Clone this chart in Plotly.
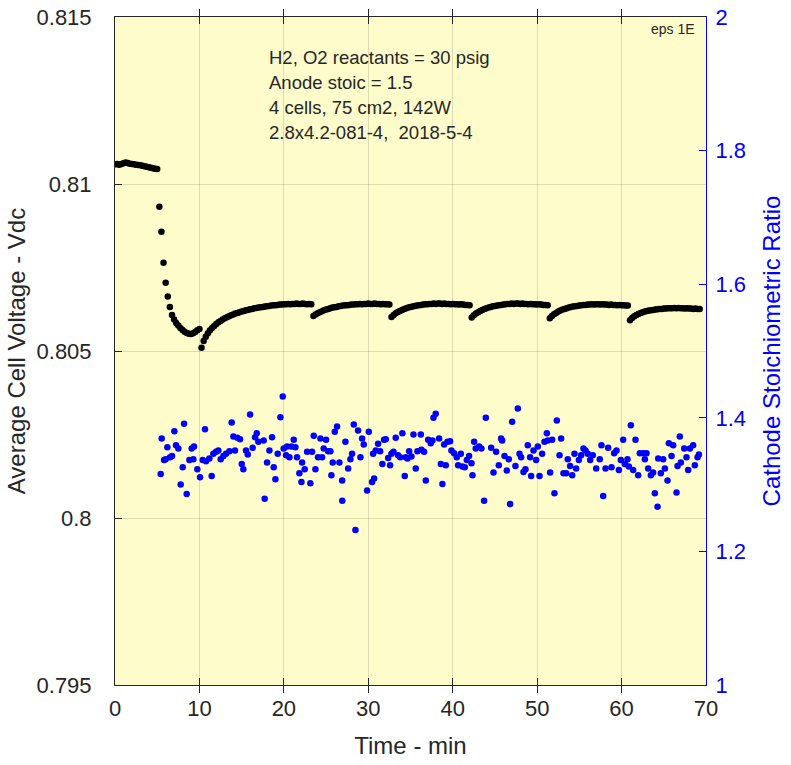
import plotly.graph_objects as go

# ---------------- data ----------------
sample_interval_min = 0.25

# Average cell voltage (Vdc), black series, one list per load segment
volt_seg_starts = [0.0, 5.25, 10.25, 23.5, 32.75, 42.25, 51.5, 61.0]
volt_seg_a = [0.81059, 0.81060, 0.81058, 0.81060, 0.81062, 0.81064, 0.81063, 0.81061, 0.81060, 0.81059,
              0.81058, 0.81057, 0.81056, 0.81055, 0.81053, 0.81052, 0.81050, 0.81049, 0.81047, 0.81046,
              0.81045]
volt_seg_b = [0.80932, 0.80857, 0.80764, 0.80704, 0.80663, 0.80632, 0.80608, 0.80594, 0.80584, 0.80576,
              0.80569, 0.80563, 0.80558, 0.80554, 0.80552, 0.80551, 0.80553, 0.80557, 0.80562, 0.80566]
volt_seg_c = [0.80510, 0.80530, 0.80543, 0.80553, 0.80562, 0.80569, 0.80575, 0.80581, 0.80586, 0.80590,
              0.80594, 0.80598, 0.80601, 0.80604, 0.80607, 0.80609, 0.80612, 0.80614, 0.80616, 0.80618,
              0.80620, 0.80622, 0.80623, 0.80625, 0.80626, 0.80628, 0.80629, 0.80630, 0.80631, 0.80632,
              0.80633, 0.80634, 0.80635, 0.80636, 0.80637, 0.80637, 0.80638, 0.80639, 0.80639, 0.80640,
              0.80640, 0.80641, 0.80640, 0.80641, 0.80641, 0.80642, 0.80641, 0.80641, 0.80642, 0.80641,
              0.80640, 0.80641, 0.80640]
volt_seg_d = [0.80605, 0.80609, 0.80613, 0.80616, 0.80619, 0.80622, 0.80624, 0.80626, 0.80628, 0.80630,
              0.80631, 0.80632, 0.80634, 0.80635, 0.80636, 0.80637, 0.80637, 0.80638, 0.80639, 0.80639,
              0.80640, 0.80640, 0.80641, 0.80640, 0.80641, 0.80641, 0.80642, 0.80641, 0.80641, 0.80642,
              0.80641, 0.80641, 0.80640, 0.80641, 0.80640, 0.80640, 0.80639]
volt_seg_e = [0.80602, 0.80608, 0.80613, 0.80617, 0.80620, 0.80623, 0.80626, 0.80628, 0.80630, 0.80632,
              0.80633, 0.80635, 0.80636, 0.80637, 0.80638, 0.80639, 0.80640, 0.80640, 0.80641, 0.80641,
              0.80642, 0.80641, 0.80642, 0.80642, 0.80641, 0.80642, 0.80641, 0.80641, 0.80640, 0.80641,
              0.80640, 0.80640, 0.80639, 0.80640, 0.80639, 0.80638, 0.80638, 0.80637]
volt_seg_f = [0.80600, 0.80607, 0.80612, 0.80616, 0.80620, 0.80623, 0.80626, 0.80628, 0.80630, 0.80632,
              0.80634, 0.80635, 0.80636, 0.80637, 0.80638, 0.80639, 0.80640, 0.80641, 0.80641, 0.80642,
              0.80641, 0.80642, 0.80642, 0.80641, 0.80642, 0.80641, 0.80641, 0.80640, 0.80641, 0.80640,
              0.80640, 0.80639, 0.80640, 0.80639, 0.80638, 0.80638, 0.80637]
volt_seg_g = [0.80598, 0.80605, 0.80610, 0.80614, 0.80618, 0.80621, 0.80624, 0.80626, 0.80628, 0.80630,
              0.80632, 0.80633, 0.80634, 0.80635, 0.80636, 0.80637, 0.80638, 0.80638, 0.80639, 0.80639,
              0.80640, 0.80639, 0.80640, 0.80640, 0.80639, 0.80640, 0.80639, 0.80639, 0.80638, 0.80639,
              0.80638, 0.80638, 0.80637, 0.80638, 0.80637, 0.80637, 0.80636, 0.80636]
volt_seg_h = [0.80592, 0.80599, 0.80604, 0.80608, 0.80611, 0.80614, 0.80616, 0.80618, 0.80620, 0.80621,
              0.80622, 0.80623, 0.80624, 0.80625, 0.80626, 0.80626, 0.80627, 0.80627, 0.80628, 0.80628,
              0.80628, 0.80629, 0.80628, 0.80629, 0.80628, 0.80628, 0.80627, 0.80628, 0.80627, 0.80627,
              0.80626, 0.80627, 0.80626, 0.80626]

# Cathode stoichiometric ratio, blue series
stoich_time = [
    5.41, 5.53, 5.81, 6.00, 6.20, 6.52, 6.75, 7.03, 7.23, 7.50, 7.78, 8.02, 8.18, 8.49, 8.81, 9.08, 9.28, 9.36, 9.75, 10.07,
    10.39, 10.66, 10.78, 11.18, 11.45, 11.65, 11.97, 12.24, 12.52, 12.84, 13.15, 13.55, 13.82, 14.02, 14.21, 14.49, 14.81,
    15.01, 15.20, 15.52, 15.72, 16.00, 16.31, 16.59, 16.79, 16.98,
    17.61, 17.73, 18.01, 18.29, 18.60, 18.80, 19.00, 19.27, 19.59, 19.87, 19.98, 20.26, 20.38, 20.66, 20.89, 21.17, 21.37,
    21.56, 21.84, 22.08, 22.16, 22.47, 22.75, 23.14, 23.34, 23.54, 23.74, 24.05, 24.33, 24.53, 24.72, 25.00, 25.24, 25.51,
    25.63, 25.79, 26.03, 26.30, 26.58, 26.90, 26.92, 27.29, 27.61, 27.88, 28.08, 28.28, 28.48, 28.79, 29.07, 29.27, 29.46,
    29.86, 30.06, 30.45, 30.57,
    30.69, 30.88, 31.16, 31.40, 31.67, 31.87, 32.07, 32.35, 32.58, 32.74, 32.98, 33.25, 33.53, 33.77, 34.04, 34.32, 34.44,
    34.64, 34.84, 35.11, 35.35, 35.62, 35.82, 36.22, 36.29, 36.61, 36.81, 37.09, 37.40, 37.60, 37.72, 37.99, 38.39, 38.59,
    38.78, 38.98, 39.18, 39.38, 39.69, 39.85, 40.17, 40.48, 40.64, 40.96, 41.15, 41.43, 41.67, 41.94, 42.22, 42.34, 42.54,
    42.73, 43.13, 43.40, 43.72, 43.92,
    44.55, 44.83, 45.14, 45.46, 45.73, 45.85, 46.13, 46.41, 46.64, 46.80, 47.04, 47.43, 47.71, 47.91, 48.10, 48.38, 48.62,
    48.89, 49.17, 49.29, 49.57, 49.88, 50.08, 50.28, 50.59, 50.87, 51.15, 51.26, 51.54, 51.78, 52.05, 52.33, 52.65, 52.84,
    53.12, 53.44, 53.63, 53.91, 54.15, 54.42, 54.62, 54.94, 55.21, 55.49, 55.73, 56.00, 56.28, 56.59, 56.99,
    57.42, 57.62, 57.82, 58.10, 58.41, 58.81, 59.12, 59.40, 59.68, 59.91, 60.19, 60.39, 60.70, 60.86, 61.10, 61.37, 61.65,
    61.97, 62.16, 62.56, 62.76, 62.95, 63.15, 63.47, 63.74, 63.94, 64.26, 64.34, 64.65, 64.93, 65.13, 65.44, 65.60, 65.92,
    66.11, 66.51, 66.63, 66.90, 67.02, 67.42, 67.69, 67.89, 68.09, 68.48, 68.68, 69.00, 69.16]
stoich_ratio = [
    1.316, 1.369, 1.337, 1.338, 1.356, 1.341, 1.343, 1.380, 1.359, 1.354, 1.300, 1.326, 1.391, 1.286, 1.337, 1.354, 1.338,
    1.357, 1.323, 1.311, 1.337, 1.383, 1.335, 1.339, 1.313, 1.346, 1.349, 1.351, 1.338, 1.343, 1.346, 1.350, 1.393, 1.372,
    1.351, 1.370, 1.368, 1.331, 1.323, 1.351, 1.345, 1.405, 1.355, 1.371, 1.377, 1.364,
    1.366, 1.279, 1.333, 1.351, 1.371, 1.326, 1.308, 1.346, 1.401, 1.432, 1.354, 1.344, 1.357, 1.341, 1.357, 1.367, 1.356,
    1.341, 1.317, 1.304, 1.333, 1.323, 1.349, 1.302, 1.349, 1.373, 1.323, 1.341, 1.369, 1.341, 1.354, 1.367, 1.350, 1.350,
    1.314, 1.333, 1.379, 1.387, 1.333, 1.306, 1.276, 1.364, 1.324, 1.338, 1.346, 1.390, 1.232, 1.381, 1.341, 1.369, 1.360,
    1.291, 1.379, 1.304, 1.346,
    1.309, 1.351, 1.361, 1.350, 1.331, 1.367, 1.368, 1.340, 1.329, 1.346, 1.349, 1.370, 1.344, 1.341, 1.377, 1.313, 1.341,
    1.339, 1.350, 1.342, 1.375, 1.324, 1.350, 1.375, 1.352, 1.349, 1.306, 1.367, 1.362, 1.366, 1.400, 1.406, 1.369, 1.331,
    1.301, 1.360, 1.329, 1.364, 1.365, 1.351, 1.347, 1.341, 1.329, 1.346, 1.327, 1.326, 1.337, 1.343, 1.332, 1.314, 1.364,
    1.354, 1.357, 1.354, 1.276, 1.400,
    1.355, 1.318, 1.349, 1.329, 1.369, 1.366, 1.343, 1.321, 1.338, 1.271, 1.394, 1.328, 1.414, 1.346, 1.341, 1.319, 1.323,
    1.359, 1.341, 1.313, 1.351, 1.337, 1.357, 1.313, 1.346, 1.364, 1.377, 1.366, 1.318, 1.367, 1.287, 1.396, 1.344, 1.369,
    1.317, 1.317, 1.338, 1.328, 1.314, 1.346, 1.324, 1.337, 1.344, 1.354, 1.351, 1.346, 1.337, 1.344, 1.324,
    1.338, 1.359, 1.283, 1.324, 1.355, 1.326, 1.347, 1.351, 1.322, 1.337, 1.367, 1.331, 1.338, 1.327, 1.389, 1.322, 1.367,
    1.314, 1.347, 1.347, 1.338, 1.347, 1.324, 1.314, 1.318, 1.287, 1.267, 1.339, 1.317, 1.338, 1.324, 1.306, 1.362, 1.343,
    1.359, 1.288, 1.328, 1.372, 1.333, 1.354, 1.341, 1.322, 1.354, 1.359, 1.329, 1.341, 1.345]

x_ticks = [0, 10, 20, 30, 40, 50, 60, 70]
volt_ticks = [0.795, 0.8, 0.805, 0.81, 0.815]
volt_tick_labels = ["0.795", "0.8", "0.805", "0.81", "0.815"]
ratio_ticks = [1, 1.2, 1.4, 1.6, 1.8, 2]
ratio_tick_labels = ["1", "1.2", "1.4", "1.6", "1.8", "2"]

note_lines = ["H2, O2 reactants = 30 psig", "Anode stoic = 1.5",
              "4 cells, 75 cm2, 142W", "2.8x4.2-081-4,  2018-5-4"]
corner_label = "eps 1E"

# ---------------- build ----------------
volt_segments = [volt_seg_a, volt_seg_b, volt_seg_c, volt_seg_d,
                 volt_seg_e, volt_seg_f, volt_seg_g, volt_seg_h]
volt_time, volt_value = [], []
for start, seg in zip(volt_seg_starts, volt_segments):
    for k, v in enumerate(seg):
        volt_time.append(round(start + k * sample_interval_min, 4))
        volt_value.append(v)

FONT = "Liberation Sans, Arial, sans-serif"
DARK = "#262626"
BLUE = "#0000FF"
GRID = "rgba(0,0,0,0.13)"

fig = go.Figure()
fig.add_trace(go.Scatter(x=stoich_time, y=stoich_ratio, mode="markers", yaxis="y2",
                         marker=dict(color=BLUE, size=6.5, line=dict(width=0)),
                         showlegend=False, hoverinfo="x+y"))
fig.add_trace(go.Scatter(x=volt_time, y=volt_value, mode="markers",
                         marker=dict(color="black", size=6.5, line=dict(width=0)),
                         showlegend=False, hoverinfo="x+y"))

for i, line in enumerate(note_lines):
    fig.add_annotation(x=18.0, y=0.81378 - i * 0.00075, xref="x", yref="y",
                       text=line, showarrow=False, xanchor="left", yanchor="middle",
                       font=dict(family=FONT, size=18.5, color=DARK))
fig.add_annotation(x=0.985, y=0.997, xref="paper", yref="paper", text=corner_label,
                   showarrow=False, xanchor="right", yanchor="top",
                   font=dict(family=FONT, size=14, color=DARK))

fig.update_layout(
    width=791, height=765,
    margin=dict(l=115, r=85, t=17, b=80, autoexpand=False),
    paper_bgcolor="white", plot_bgcolor="#FEFCCB",
    font=dict(family=FONT, size=22, color=DARK),
    xaxis=dict(range=[0, 70], tickvals=x_ticks, ticks="inside", ticklen=7, tickcolor=DARK,
               showline=True, linecolor=DARK, linewidth=1, mirror="allticks",
               showgrid=True, gridcolor=GRID, zeroline=False, automargin=False,
               tickfont=dict(size=22, color=DARK), ticklabelstandoff=4,
               title=dict(text="Time - min", font=dict(size=24, color=DARK), standoff=16)),
    yaxis=dict(range=[0.795, 0.815], tickvals=volt_ticks, ticktext=volt_tick_labels,
               ticks="inside", ticklen=7, tickcolor=DARK, showline=True, linecolor=DARK,
               linewidth=1, showgrid=True, gridcolor=GRID, zeroline=False, automargin=False,
               tickfont=dict(size=22, color=DARK), ticklabelstandoff=18,
               title=dict(text="Average Cell Voltage - Vdc", font=dict(size=24, color=DARK), standoff=4)),
    yaxis2=dict(range=[1, 2], tickvals=ratio_ticks, ticktext=ratio_tick_labels,
                overlaying="y", side="right", ticks="inside", ticklen=7, tickcolor=BLUE,
                showline=True, linecolor=BLUE, linewidth=1, showgrid=False, zeroline=False,
                automargin=False,
                tickfont=dict(size=22, color=BLUE), ticklabelstandoff=4,
                title=dict(text="Cathode Stoichiometric Ratio", font=dict(size=24, color=BLUE), standoff=18)),
)

fig.write_html("out.html")
